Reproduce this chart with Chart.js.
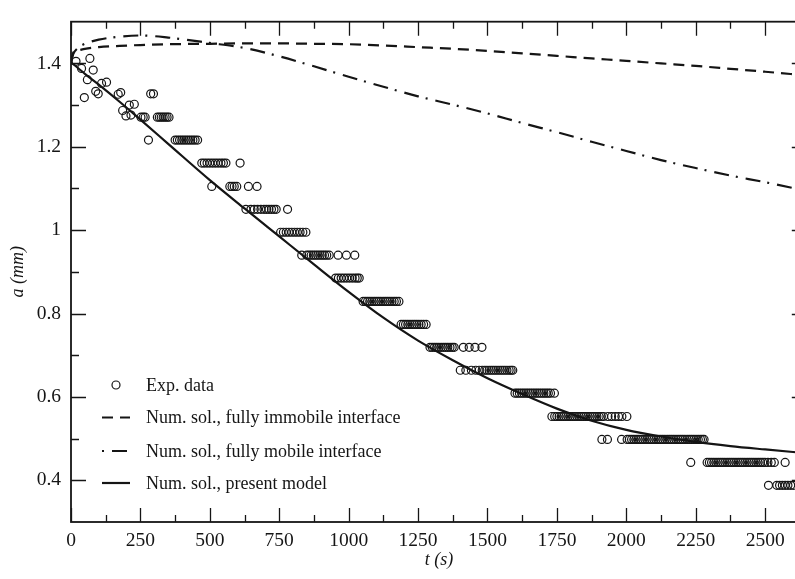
<!DOCTYPE html>
<html>
<head>
<meta charset="utf-8">
<title>Bubble radius vs time</title>
<script src="https://cdn.jsdelivr.net/npm/chart.js@4.4.0/dist/chart.umd.min.js"></script>
<style>
    html, body { margin: 0; padding: 0; background: #fff; overflow: hidden; }
    #wrap { width: 795px; height: 579px; overflow: hidden; }
    canvas { display: block; }
</style>
</head>
<body>
<div id="wrap"><canvas id="radiusChart" width="812" height="579"></canvas></div>
<script>
// Model curves, sampled on a common time grid (s) -> radius a (mm)
const modelTime = [0, 8, 25, 50, 100, 175, 250, 350, 500, 625, 750, 875, 1000, 1125, 1250, 1375, 1500, 1625, 1750, 1875, 2000, 2125, 2250, 2375, 2500, 2650];
const immobileRadius = [1.402, 1.426, 1.431, 1.435, 1.439, 1.442, 1.444, 1.446, 1.447, 1.448, 1.448, 1.447, 1.446, 1.443, 1.439, 1.435, 1.430, 1.424, 1.418, 1.412, 1.406, 1.400, 1.394, 1.387, 1.380, 1.371];
const mobileRadius = [1.402, 1.422, 1.437, 1.447, 1.457, 1.464, 1.467, 1.462, 1.449, 1.437, 1.417, 1.393, 1.368, 1.344, 1.321, 1.301, 1.280, 1.257, 1.235, 1.212, 1.190, 1.168, 1.149, 1.131, 1.115, 1.094];
const presentRadius = [1.402, 1.398, 1.389, 1.375, 1.349, 1.308, 1.265, 1.207, 1.120, 1.052, 0.985, 0.918, 0.852, 0.790, 0.735, 0.688, 0.645, 0.607, 0.572, 0.543, 0.521, 0.505, 0.492, 0.482, 0.474, 0.465];

// Experimental data: scattered early readings
const earlyTime = [18, 38, 48, 59, 68, 80, 89, 98, 110, 128, 170, 179, 186, 198, 210, 216, 228, 279, 287, 297];
const earlyRadius = [1.405, 1.388, 1.318, 1.361, 1.412, 1.384, 1.333, 1.327, 1.352, 1.355, 1.326, 1.330, 1.287, 1.274, 1.300, 1.276, 1.302, 1.216, 1.327, 1.327];

// Experimental data: later readings fall on discrete radius levels
const levelRadius = [1.271, 1.216, 1.161, 1.105, 1.050, 0.995, 0.940, 0.885, 0.829, 0.774, 0.719, 0.664, 0.609, 0.553, 0.498, 0.443, 0.388];
const levelTimes = [
    [252, 260, 267, 311, 318, 325, 332, 339, 346, 353],
    [375, 383, 391, 399, 407, 415, 423, 431, 439, 447, 456],
    [471, 480, 490, 500, 510, 520, 530, 540, 549, 558, 609],
    [507, 572, 580, 588, 597, 639, 670],
    [630, 648, 660, 672, 684, 695, 704, 713, 722, 731, 739, 780],
    [755, 765, 775, 785, 795, 805, 815, 825, 835, 846],
    [831, 849, 857, 865, 873, 881, 889, 897, 905, 913, 921, 930, 962, 992, 1022],
    [953, 963, 973, 983, 993, 1003, 1013, 1023, 1031, 1038],
    [1052, 1060, 1068, 1076, 1084, 1092, 1100, 1108, 1116, 1124, 1132, 1140, 1148, 1156, 1164, 1172, 1181],
    [1189, 1197, 1205, 1213, 1221, 1229, 1237, 1245, 1253, 1261, 1270, 1279],
    [1293, 1301, 1309, 1317, 1325, 1333, 1341, 1349, 1357, 1365, 1373, 1380, 1413, 1434, 1455, 1480],
    [1402, 1422, 1442, 1458, 1470, 1481, 1490, 1498, 1506, 1514, 1522, 1530, 1538, 1546, 1554, 1562, 1570, 1578, 1585, 1591],
    [1599, 1607, 1615, 1623, 1631, 1639, 1647, 1655, 1663, 1671, 1679, 1687, 1695, 1703, 1711, 1719, 1727, 1741],
    [1732, 1742, 1750, 1758, 1766, 1774, 1782, 1790, 1798, 1806, 1814, 1822, 1830, 1838, 1846, 1854, 1862, 1870, 1878, 1886, 1894, 1902, 1910, 1918, 1934, 1947, 1960, 1972, 1984, 2002],
    [1912, 1932, 1983, 2003, 2011, 2019, 2027, 2035, 2043, 2051, 2059, 2067, 2075, 2083, 2091, 2099, 2107, 2115, 2123, 2131, 2139, 2147, 2155, 2163, 2171, 2179, 2187, 2195, 2203, 2211, 2219, 2227, 2235, 2243, 2251, 2259, 2267, 2274, 2280],
    [2232, 2291, 2299, 2307, 2315, 2323, 2331, 2339, 2347, 2355, 2363, 2371, 2379, 2387, 2395, 2403, 2411, 2419, 2427, 2435, 2443, 2451, 2459, 2467, 2475, 2483, 2491, 2499, 2510, 2522, 2533, 2572],
    [2512, 2542, 2552, 2562, 2572, 2582, 2592, 2602]
];

// Axis ticks
const xTicks = [0, 250, 500, 750, 1000, 1250, 1500, 1750, 2000, 2250, 2500];
const xMinorTicks = [125, 375, 625, 875, 1125, 1375, 1625, 1875, 2125, 2375, 2625];
const yTicks = [0.4, 0.6, 0.8, 1, 1.2, 1.4];
const yMinorTicks = [0.5, 0.7, 0.9, 1.1, 1.3];

const legendLabels = ['Exp. data', 'Num. sol., fully immobile interface', 'Num. sol., fully mobile interface', 'Num. sol., present model'];

const serif = "'Liberation Serif', 'Times New Roman', serif";
const ink = '#151515';

document.addEventListener('DOMContentLoaded', () => {
    Chart.defaults.font.family = serif;
    Chart.defaults.color = ink;

    const toPoints = (xs, ys) => xs.map((x, i) => ({ x: x, y: ys[i] }));

    const expPoints = toPoints(earlyTime, earlyRadius);
    levelTimes.forEach((times, i) => {
        times.forEach(t => expPoints.push({ x: t, y: levelRadius[i] }));
    });

    const curve = (data, dash) => ({
        data: data,
        showLine: true,
        borderColor: ink,
        borderWidth: 2.2,
        borderDash: dash,
        pointRadius: 0,
        cubicInterpolationMode: 'monotone',
        fill: false
    });

    // frame plus inward tick marks on all four sides
    const frameTicks = {
        id: 'frameTicks',
        afterDatasetsDraw(chart) {
            const { ctx, chartArea: a, scales } = chart;
            ctx.save();
            ctx.strokeStyle = ink;
            ctx.lineWidth = 1.8;
            ctx.strokeRect(a.left, a.top, a.right - a.left, a.bottom - a.top);
            ctx.lineWidth = 1.3;
            ctx.beginPath();
            const xTick = (v, len) => {
                const px = Math.round(scales.x.getPixelForValue(v)) + 0.5;
                ctx.moveTo(px, a.bottom); ctx.lineTo(px, a.bottom - len);
                ctx.moveTo(px, a.top); ctx.lineTo(px, a.top + len);
            };
            const yTick = (v, len) => {
                const py = Math.round(scales.y.getPixelForValue(v)) + 0.5;
                ctx.moveTo(a.left, py); ctx.lineTo(a.left + len, py);
                ctx.moveTo(a.right, py); ctx.lineTo(a.right - len, py);
            };
            xTicks.forEach(v => xTick(v, 14));
            xMinorTicks.forEach(v => xTick(v, 7));
            yTicks.forEach(v => yTick(v, 15));
            yMinorTicks.forEach(v => yTick(v, 8));
            ctx.stroke();
            ctx.restore();
        }
    };

    // legend in the lower left of the plot
    const plotLegend = {
        id: 'plotLegend',
        afterDraw(chart) {
            const { ctx, chartArea: a } = chart;
            const x0 = a.left + 31;
            const x1 = a.left + 59;
            const textX = a.left + 75;
            const rowY = [a.bottom - 137, a.bottom - 104.5, a.bottom - 71, a.bottom - 39];
            ctx.save();
            ctx.strokeStyle = ink;
            ctx.fillStyle = ink;
            ctx.font = '18px ' + serif;
            ctx.textBaseline = 'middle';
            chart.data.datasets.forEach((ds, i) => {
                const y = rowY[i];
                ctx.lineWidth = ds.borderWidth;
                ctx.beginPath();
                if (i === 0) {
                    ctx.setLineDash([]);
                    ctx.arc((x0 + x1) / 2, y, ds.pointRadius, 0, Math.PI * 2);
                } else {
                    const dash = ds.borderDash || [];
                    ctx.setLineDash(dash);
                    // start the dash-dot sample on its dot
                    ctx.lineDashOffset = dash.length === 4 ? dash[0] + dash[1] : 0;
                    ctx.moveTo(x0, y);
                    ctx.lineTo(x1, y);
                }
                ctx.stroke();
                ctx.setLineDash([]);
                ctx.lineDashOffset = 0;
                ctx.fillText(legendLabels[i], textX, y + 1);
            });
            ctx.restore();
        }
    };

    new Chart(document.getElementById('radiusChart'), {
        type: 'scatter',
        data: {
            datasets: [
                {
                    data: expPoints,
                    pointStyle: 'circle',
                    pointRadius: 4,
                    borderWidth: 1.2,
                    borderColor: ink,
                    backgroundColor: 'rgba(0,0,0,0)'
                },
                curve(toPoints(modelTime, immobileRadius), [11, 7]),
                curve(toPoints(modelTime, mobileRadius), [15, 7, 2, 8]),
                curve(toPoints(modelTime, presentRadius), [])
            ]
        },
        options: {
            responsive: false,
            animation: false,
            layout: { padding: { top: 10, right: 5, left: 0, bottom: 0 } },
            plugins: { legend: { display: false }, tooltip: { enabled: false } },
            scales: {
                x: {
                    type: 'linear',
                    min: 0,
                    max: 2650,
                    afterBuildTicks: scale => { scale.ticks = xTicks.map(v => ({ value: v })); },
                    afterFit: scale => { scale.height = 57; },
                    grid: { display: false, drawTicks: false },
                    border: { display: false },
                    ticks: { font: { size: 19.5 }, padding: 7, maxRotation: 0, autoSkip: false, callback: v => String(v) },
                    title: { display: true, text: 't (s)', font: { size: 18, style: 'italic' }, padding: { top: 0, bottom: 8 } }
                },
                y: {
                    type: 'linear',
                    min: 0.3,
                    max: 1.5,
                    afterBuildTicks: scale => { scale.ticks = yTicks.map(v => ({ value: v })); },
                    afterFit: scale => { scale.width = 71; },
                    grid: { display: false, drawTicks: false },
                    border: { display: false },
                    ticks: { font: { size: 19.5 }, padding: 10, callback: v => String(v) },
                    title: { display: true, text: 'a (mm)', font: { size: 18, style: 'italic' }, padding: { top: 7, bottom: 0 } }
                }
            }
        },
        plugins: [frameTicks, plotLegend]
    });
});
</script>
</body>
</html>
